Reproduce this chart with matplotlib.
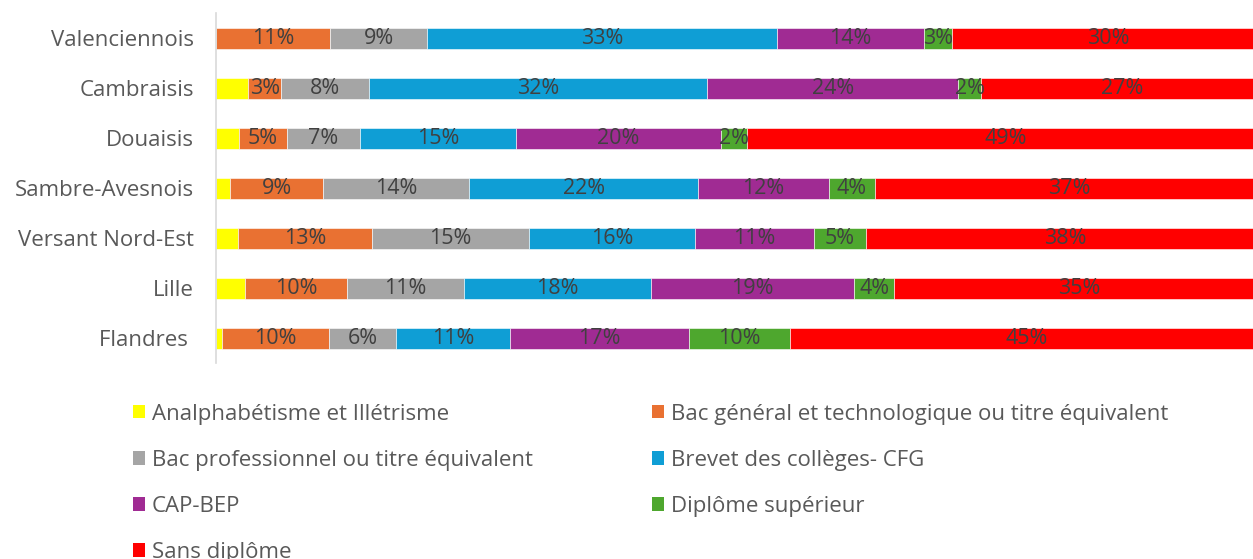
import numpy as np
import matplotlib
matplotlib.use('Agg')
import matplotlib.pyplot as plt
from matplotlib.patches import Patch

plt.rcParams['font.family'] = ['Open Sans', 'DejaVu Sans']

# Territoires (du haut vers le bas)
territoires = ['Valenciennois', 'Cambraisis', 'Douaisis', 'Sambre-Avesnois',
               'Versant Nord-Est', 'Lille', 'Flandres ']

niveaux = ['Analphabétisme et Illétrisme',
           'Bac général et technologique ou titre équivalent',
           'Bac professionnel ou titre équivalent',
           'Brevet des collèges- CFG',
           'CAP-BEP',
           'Diplôme supérieur',
           'Sans diplôme']

couleurs = ['#FFFF00', '#E97132', '#A5A5A5', '#0F9ED5', '#A02B93', '#4EA72E', '#FF0000']

# Parts en % par niveau, dans l'ordre des territoires
analphabetisme = [0.0, 3.08, 2.22, 1.36, 2.10, 2.77, 0.57]
bac_general = [10.88, 3.12, 4.55, 8.87, 12.79, 9.76, 10.21]
bac_pro = [9.26, 8.37, 6.97, 13.93, 14.98, 11.13, 6.39]
brevet = [33.40, 32.28, 14.85, 21.85, 15.84, 17.84, 10.88]
cap_bep = [14.03, 23.98, 19.62, 12.47, 11.35, 19.40, 17.08]
diplome_sup = [2.67, 2.17, 2.42, 4.36, 4.99, 3.79, 9.64]
sans_diplome = [29.76, 27.00, 49.37, 37.16, 37.95, 35.31, 45.23]

series = [analphabetisme, bac_general, bac_pro, brevet, cap_bep, diplome_sup, sans_diplome]

fig = plt.figure(figsize=(12.53, 5.59), dpi=100)
ax = fig.add_axes([0.1724, 0.3506, 0.8364, 0.6261])

y = np.arange(len(territoires))
left = np.zeros(len(territoires))
for i, (vals, col) in enumerate(zip(series, couleurs)):
    vals = np.array(vals, dtype=float)
    ax.barh(y, vals, left=left, height=0.42, color=col, edgecolor='white', linewidth=0.4)
    # pas d'étiquette pour l'analphabétisme (segments trop étroits)
    if i > 0:
        for yy, l, v in zip(y, left, vals):
            ax.text(l + v / 2, yy, f'{v:.0f}%', ha='center', va='center',
                    fontsize=15.5, color='#404040')
    left += vals

ax.set_xlim(0, 100)
ax.set_ylim(len(territoires) - 0.5, -0.5)
ax.set_yticks(y)
ax.set_yticklabels(territoires, fontsize=16, color='#595959')
ax.tick_params(axis='y', length=0, pad=16)
ax.set_xticks([])
for s in ['top', 'right', 'bottom']:
    ax.spines[s].set_visible(False)
ax.spines['left'].set_color('#D9D9D9')
ax.spines['left'].set_linewidth(1.2)

# Légende en deux colonnes placées séparément
handles = [Patch(facecolor=c, edgecolor='none') for c in couleurs]
for idx, x0 in [([0, 2, 4, 6], 133 / 1253), ([1, 3, 5], 652 / 1253)]:
    leg = fig.legend([handles[k] for k in idx], [niveaux[k] for k in idx],
                     loc='upper left', bbox_to_anchor=(x0, 0.278),
                     frameon=False, fontsize=16, handlelength=0.55, handleheight=0.55,
                     handletextpad=0.3, labelspacing=1.13, borderpad=0,
                     borderaxespad=0)
    for t in leg.get_texts():
        t.set_color('#595959')

fig.savefig('out.png', dpi=100)
